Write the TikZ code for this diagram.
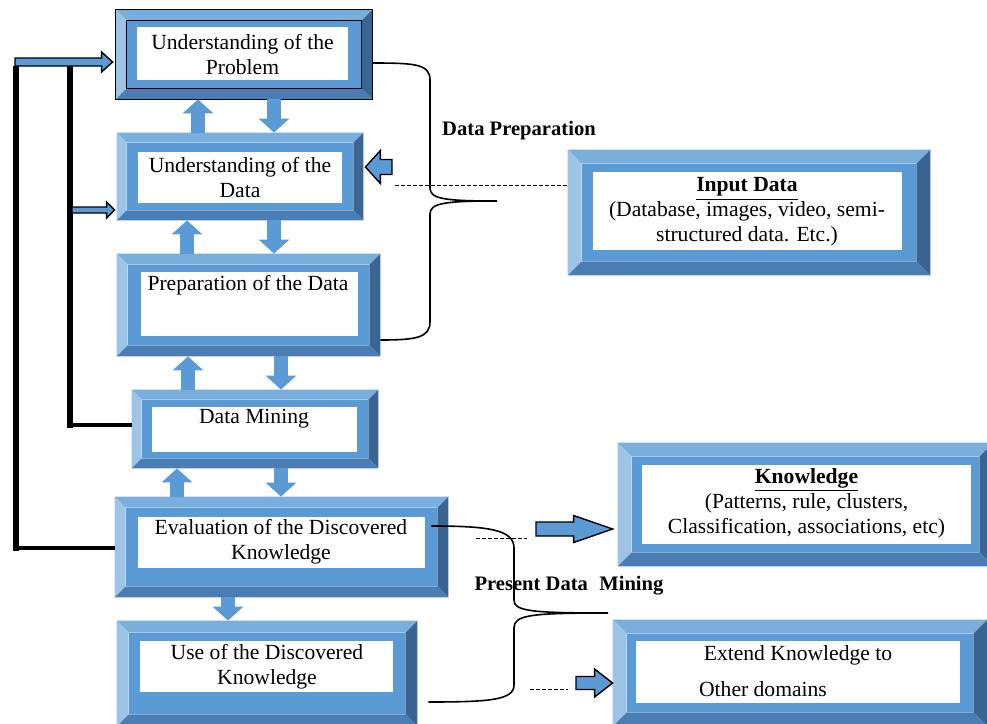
\documentclass[tikz,border=0pt]{standalone}
\usepackage{fontspec}
\setmainfont{Liberation Serif}
\usetikzlibrary{arrows.meta,calc,fit}
\definecolor{bvTop}{HTML}{7AAEDD}
\definecolor{bvLeft}{HTML}{9DC3E6}
\definecolor{bvRight}{HTML}{3A6491}
\definecolor{bvBot}{HTML}{4A7DB3}
\definecolor{bvBand}{HTML}{5B9BD5}
% bevelled box: name, outer NW, outer SE, bevel, white NW, white SE
\newcommand{\bevbox}[6]{%
  \node[fit={(#2) (#3)},inner sep=0pt] (#1) {};
  \fill[bvTop] (#1.north west) -- (#1.north east) -- ([shift={(-#4,#4)}]#1.north east) -- ([shift={(#4,#4)}]#1.north west) -- cycle;
  \fill[bvLeft] (#1.north west) -- ([shift={(#4,#4)}]#1.north west) -- ([shift={(#4,-#4)}]#1.south west) -- (#1.south west) -- cycle;
  \fill[bvRight] (#1.north east) -- (#1.south east) -- ([shift={(-#4,-#4)}]#1.south east) -- ([shift={(-#4,#4)}]#1.north east) -- cycle;
  \fill[bvBot] (#1.south west) -- ([shift={(#4,-#4)}]#1.south west) -- ([shift={(-#4,-#4)}]#1.south east) -- (#1.south east) -- cycle;
  \fill[bvBand] ([shift={(#4,#4)}]#1.north west) rectangle ([shift={(-#4,-#4)}]#1.south east);
  \node[fit={(#5) (#6)},inner sep=0pt,fill=white] (#1-w) {};
}
% outlined horizontal block arrow: from, to, shaft half, head half, head length
\newcommand{\harrow}[5]{%
  \draw[oarr] let \p1=#1, \p2=#2, \n1={\x2-(#5)} in
    (\x1,{\y1+#3}) -- (\n1,{\y1+#3}) -- (\n1,{\y1+#4}) -- (\x2,\y1)
    -- (\n1,{\y1-#4}) -- (\n1,{\y1-#3}) -- (\x1,{\y1-#3}) -- cycle;
}

\begin{document}
\begin{tikzpicture}[x=0.5pt,y=-0.5pt,
  txt/.style={align=center,inner sep=0pt,font=\fontsize{10.8}{12.5}\selectfont},
  lbl/.style={inner sep=0pt,font=\fontsize{10.3}{12}\selectfont\bfseries},
  blk/.style={draw=bvBand,line width=7pt,-{Triangle[width=15pt,length=7pt]}},
  oarr/.style={draw=black,line width=0.7pt,fill=bvBand,line join=miter},
  vln/.style={line width=3.2pt,line cap=rect},
  hln/.style={line width=2pt},
  brc/.style={line width=0.8pt},
  dsh/.style={line width=0.5pt,dash pattern=on 2pt off 1pt}]
\useasboundingbox (0,0) rectangle (987,724);
\clip (0,0) rectangle (987,724);

\bevbox{b1}{116,10}{372,99}{11}{137,27}{348,80}
\draw[line width=0.5pt] (b1.north west) rectangle (b1.south east);
\draw[line width=0.8pt] ([shift={(11,11)}]b1.north west) rectangle ([shift={(-11,-11)}]b1.south east);
\bevbox{b2}{117,133}{363,220}{10}{138,152}{342,203}
\bevbox{b3}{117,254}{380,356}{11}{141,272}{358,336}
\bevbox{b4}{132,390}{378,468}{10}{152,407}{357,452}
\bevbox{b5}{115,497}{448,597}{11}{138,517}{425,568}
\bevbox{b6}{117,621}{417,726}{12}{140,641}{393,692}
\bevbox{in}{568,150}{930,275}{14}{593,172}{902,250}
\bevbox{kn}{618,443}{993,566}{14}{642,465}{971,544}
\bevbox{ex}{613,620}{987,726}{14}{636,641}{960,703}

\node[txt] (t1) at (242.5,54.5) {Understanding of the\\Problem};
\node[txt] (t2) at (240,177) {Understanding of the\\Data};
\node[txt] (t3) at (248,285) {Preparation of the Data};
\node[txt] (t4) at (254,419) {Data Mining};
\node[txt] (t5) at (281,542) {Evaluation of the Discovered\\Knowledge};
\node[txt] (t6) at (267,667) {Use of the Discovered\\Knowledge};
\node[txt] (t7) at (747,212) {\underline{\textbf{Input Data}}\\(Database, images, video, semi-\\structured data. Etc.)};
\node[txt] (t8) at (806.5,503) {\underline{\textbf{Knowledge}}\\(Patterns, rule, clusters,\\Classification, associations, etc)};
\node[txt] (t9) at (798,655) {Extend Knowledge to};
\node[txt] (t10) at (763,689) {Other domains};

\node[lbl] (dp) at (519,131) {Data Preparation};
\node[lbl] (pdm) at (569,586) {Present Data\hspace{0.3em} Mining};

% up and down arrows between the steps
\draw[blk] ([xshift=-21pt]b2.north) -- ([xshift=-23pt]b1.south);
\draw[blk] ([xshift=15pt]b1.south) -- ([xshift=17pt]b2.north);
\draw[blk] ([xshift=-30.75pt]b3.north) -- ([xshift=-26.5pt]b2.south);
\draw[blk] ([xshift=17pt]b2.south) -- ([xshift=12.75pt]b3.north);
\draw[blk] ([xshift=-33.5pt]b4.north) -- ([xshift=-30.25pt]b3.south);
\draw[blk] ([xshift=16.25pt]b3.south) -- ([xshift=13pt]b4.north);
\draw[blk] ([xshift=-52.25pt]b5.north) -- ([xshift=-39pt]b4.south);
\draw[blk] ([xshift=13pt]b4.south) -- ([xshift=-0.25pt]b5.north);
\draw[blk] ([xshift=-26.75pt]b5.south) -- ([xshift=-19.5pt]b6.north);

% feedback lines on the left
\coordinate (v1t) at (16,69);
\coordinate (v1b) at (16,548);
\coordinate (v2t) at (70,69);
\coordinate (v2b) at (70,425);
\draw[vln] (v1t) -- (v1b);
\draw[hln] (v1b) -- (v1b -| b5.west);
\draw[vln] (v2t) -- (v2b);
\draw[hln] (v2b) -- (v2b -| b4.west);
\coordinate (fb) at (15,62);
\coordinate (fa) at (72,210);
\harrow{(fb)}{([xshift=-1.5pt,yshift=-3.75pt]b1.west)}{2pt}{5pt}{5.5pt}
\harrow{(fa)}{([xshift=-1pt,yshift=-16.75pt]b2.west)}{1.5pt}{4pt}{4pt}

% data preparation brace
\coordinate (dpTip) at (497,201);
\draw[brc] ([yshift=-4.25pt]b1.east) .. controls (415,63) and (430,64) .. (430,80) -- (430,188)
  .. controls (430,199) and (445,201) .. (dpTip) .. controls (445,201) and (430,203) .. (430,214)
  -- (430,322) .. controls (430,338) and (415,340) .. ([yshift=-17.5pt]b3.east);
\coordinate (d1) at (395,185);
\draw[dsh] (d1) -- ([yshift=13.75pt]in.west);
\coordinate (fc) at (392,167);
\harrow{(fc)}{([xshift=1pt,yshift=4.75pt]b2.east)}{3.75pt}{8.25pt}{-7.5pt}

% present data mining brace
\coordinate (pdTip) at (608,613);
\draw[brc] ([xshift=-8.5pt,yshift=10.5pt]b5.east) .. controls (490,526) and (514,530) .. (514,548) -- (514,600)
  .. controls (514,611) and (530,613) .. (pdTip) .. controls (530,613) and (514,615) .. (514,628)
  -- (514,685) .. controls (514,700) and (490,702) .. ([xshift=5.5pt,yshift=-14.25pt]b6.east);
\coordinate (d2a) at (476,538);
\coordinate (d2b) at (527,538);
\draw[dsh] (d2a) -- (d2b);
\coordinate (d3a) at (530,689);
\coordinate (d3b) at (568,689);
\draw[dsh] (d3a) -- (d3b);
\coordinate (fk) at (536,529);
\coordinate (fe) at (576,683);
\harrow{(fk)}{([xshift=-2.5pt,yshift=-12.25pt]kn.west)}{3.5pt}{6.75pt}{19.5pt}
\harrow{(fe)}{([yshift=-5pt]ex.west)}{3.25pt}{7pt}{9pt}
\end{tikzpicture}
\end{document}
